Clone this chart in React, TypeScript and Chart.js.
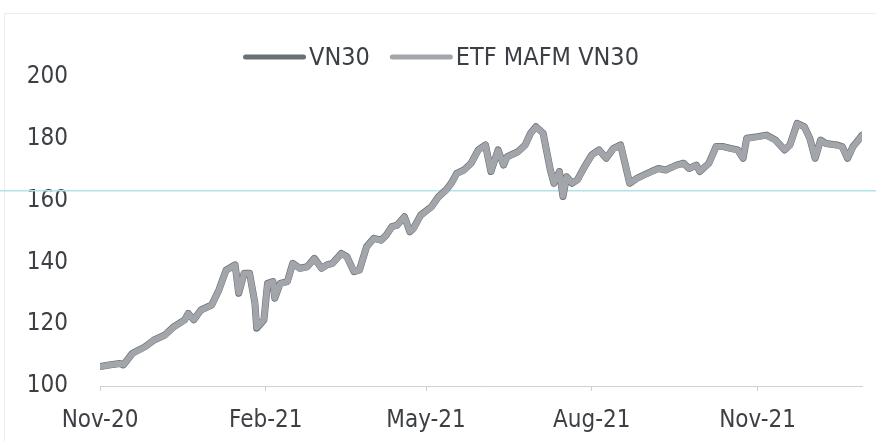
import { useEffect, useRef } from 'react';
import { Chart, registerables } from 'chart.js';

Chart.register(...registerables);

// ---------- data ----------
const seriesNames = ['VN30', 'ETF MAFM VN30'];
const startDate = '2020-11-02';
const endDate = '2021-12-30';
const tickDates = ['2020-11-02', '2021-02-02', '2021-05-02', '2021-08-02', '2021-11-02'];
const tickLabels = ['Nov-20', 'Feb-21', 'May-21', 'Aug-21', 'Nov-21'];
const yTicks = [100, 120, 140, 160, 180, 200];

const dates = [
  '2020-11-02', '2020-11-07', '2020-11-13', '2020-11-15', '2020-11-20', '2020-11-27', '2020-12-02', '2020-12-08',
  '2020-12-13', '2020-12-19', '2020-12-21', '2020-12-24', '2020-12-28', '2021-01-03', '2021-01-07', '2021-01-11',
  '2021-01-16', '2021-01-18', '2021-01-21', '2021-01-24', '2021-01-27', '2021-01-28', '2021-02-01', '2021-02-03',
  '2021-02-06', '2021-02-07', '2021-02-10', '2021-02-14', '2021-02-17', '2021-02-21', '2021-02-25', '2021-03-01',
  '2021-03-05', '2021-03-08', '2021-03-11', '2021-03-16', '2021-03-19', '2021-03-23', '2021-03-26', '2021-03-30',
  '2021-04-03', '2021-04-07', '2021-04-10', '2021-04-13', '2021-04-16', '2021-04-20', '2021-04-23', '2021-04-25',
  '2021-04-29', '2021-05-05', '2021-05-09', '2021-05-13', '2021-05-16', '2021-05-19', '2021-05-23', '2021-05-27',
  '2021-05-31', '2021-06-04', '2021-06-07', '2021-06-11', '2021-06-14', '2021-06-16', '2021-06-22', '2021-06-26',
  '2021-06-29', '2021-07-02', '2021-07-06', '2021-07-08', '2021-07-10', '2021-07-12', '2021-07-15', '2021-07-17',
  '2021-07-19', '2021-07-22', '2021-07-25', '2021-07-29', '2021-08-02', '2021-08-06', '2021-08-10', '2021-08-14',
  '2021-08-18', '2021-08-20', '2021-08-23', '2021-08-27', '2021-08-31', '2021-09-04', '2021-09-08', '2021-09-12',
  '2021-09-18', '2021-09-22', '2021-09-25', '2021-09-29', '2021-10-01', '2021-10-06', '2021-10-10', '2021-10-14',
  '2021-10-18', '2021-10-22', '2021-10-25', '2021-10-27', '2021-11-02', '2021-11-07', '2021-11-12', '2021-11-17',
  '2021-11-20', '2021-11-24', '2021-11-28', '2021-12-01', '2021-12-04', '2021-12-07', '2021-12-10', '2021-12-16',
  '2021-12-19', '2021-12-22', '2021-12-25', '2021-12-28', '2021-12-30',
];

const vn30 = [
  106.3, 106.8, 107.3, 106.8, 110.6, 112.7, 114.9, 116.5,
  119.2, 121.4, 123.5, 121.4, 124.6, 126.2, 131.1, 137.5,
  139.2, 130.0, 136.5, 136.5, 126.8, 118.7, 121.4, 133.2,
  133.8, 128.4, 133.2, 133.8, 139.7, 138.1, 138.6, 141.3,
  138.1, 139.2, 139.7, 142.9, 141.9, 137.0, 137.5, 145.1,
  147.8, 147.2, 148.9, 151.6, 152.1, 154.8, 149.9, 151.0,
  155.3, 158.0, 161.3, 163.4, 165.6, 168.8, 169.9, 172.1,
  176.4, 178.0, 169.4, 176.4, 171.5, 174.2, 175.8, 178.0,
  181.8, 183.9, 181.8, 175.8, 169.9, 165.6, 169.4, 161.3,
  167.7, 165.6, 166.7, 171.0, 174.8, 176.4, 173.7, 176.9,
  178.0, 173.1, 165.6, 167.2, 168.3, 169.4, 170.4, 169.9,
  171.5, 172.1, 170.4, 171.5, 169.4, 172.1, 177.5, 177.5,
  176.9, 176.4, 173.7, 180.2, 180.7, 181.2, 179.6, 176.4,
  178.0, 185.0, 183.9, 180.2, 173.7, 179.6, 178.5, 178.0,
  177.5, 173.7, 177.5, 179.6, 181.2,
];

const etfMafmVn30 = [
  106.2, 106.8, 107.2, 106.9, 110.5, 112.6, 114.9, 116.4,
  119.1, 121.3, 123.4, 121.5, 124.5, 126.1, 131.0, 137.4,
  139.1, 130.2, 136.4, 136.4, 126.9, 118.9, 121.5, 133.1,
  133.7, 128.5, 133.1, 133.7, 139.6, 138.0, 138.5, 141.2,
  138.1, 139.1, 139.6, 142.8, 141.8, 137.1, 137.4, 145.0,
  147.7, 147.1, 148.8, 151.5, 152.0, 154.7, 150.0, 150.9,
  155.2, 157.9, 161.2, 163.3, 165.5, 168.7, 169.8, 172.0,
  176.3, 177.9, 169.5, 176.3, 171.6, 174.1, 175.7, 177.9,
  181.7, 183.8, 181.7, 175.9, 170.0, 165.7, 169.3, 161.5,
  167.6, 165.7, 166.6, 170.9, 174.7, 176.3, 173.8, 176.8,
  177.9, 173.2, 165.7, 167.1, 168.2, 169.3, 170.3, 169.9,
  171.4, 172.0, 170.4, 171.4, 169.5, 172.0, 177.4, 177.4,
  176.8, 176.3, 173.8, 180.1, 180.6, 181.1, 179.5, 176.5,
  177.9, 184.9, 183.8, 180.1, 173.8, 179.5, 178.4, 177.9,
  177.4, 173.8, 177.4, 179.5, 181.1,
];

// ---------- helpers ----------
const dayMs = 86400000;
const toUtc = (s: string) => Date.UTC(+s.slice(0, 4), +s.slice(5, 7) - 1, +s.slice(8, 10));
const dayOf = (s: string) => Math.round((toUtc(s) - toUtc(startDate)) / dayMs);

function pickFont(): { family: string; size: number; legend: number } {
  const c = document.createElement('canvas').getContext('2d') as CanvasRenderingContext2D;
  const probe = 'Nov-20 ETF MAFM VN30 0123456789';
  c.font = '28px monospace';
  const base = c.measureText(probe).width;
  const test = (fam: string) => {
    c.font = `28px ${fam}, monospace`;
    return Math.abs(c.measureText(probe).width - base) > 0.5;
  };
  if (test('"Liberation Sans Narrow"')) return { family: '"Liberation Sans Narrow"', size: 28, legend: 29 };
  if (test('"DejaVu Sans Condensed"')) return { family: '"DejaVu Sans Condensed"', size: 24, legend: 25 };
  return { family: '"Liberation Sans", Arial, sans-serif', size: 24, legend: 25 };
}

const TEXT_COLOR = '#3c3f44';
const AXIS_COLOR = '#cdd1d5';
const LINE_COLORS = ['#6a7077', '#a2a5a9'];

export default function App() {
  const canvasRef = useRef<HTMLCanvasElement | null>(null);

  useEffect(() => {
    const canvas = canvasRef.current;
    if (!canvas) return;
    const f = pickFont();
    const font = { family: f.family, size: f.size, lineHeight: 1.2 };

    const overlay = {
      id: 'overlay',
      beforeDraw(chart: any) {
        const { ctx, width, height } = chart;
        ctx.save();
        ctx.fillStyle = '#ffffff';
        ctx.fillRect(0, 0, width, height);
        ctx.strokeStyle = '#ececec';
        ctx.lineWidth = 1;
        ctx.strokeRect(4.5, 13.5, width, height);
        ctx.restore();
      },
      beforeDatasetsDraw(chart: any) {
        const { ctx, width } = chart;
        const y = chart.scales.y.getPixelForValue(163.2);
        ctx.save();
        ctx.strokeStyle = '#b3e3ea';
        ctx.lineWidth = 1.5;
        ctx.beginPath();
        ctx.moveTo(0, y);
        ctx.lineTo(width, y);
        ctx.stroke();
        ctx.restore();
      },
      afterDraw(chart: any) {
        const { ctx } = chart;
        ctx.save();
        ctx.font = `${f.legend}px ${f.family}`;
        ctx.textBaseline = 'middle';
        ctx.textAlign = 'left';
        const swatch = 58;
        const gap = 3;
        const spacing = 20;
        const cap = 2.5;
        const widths = seriesNames.map((n) => ctx.measureText(n).width);
        const total = widths.reduce((s, w, i) => s + swatch + 2 * cap + gap + w + (i > 0 ? spacing : 0), 0);
        let x = 441 - total / 2;
        const y = 57;
        seriesNames.forEach((name, i) => {
          ctx.strokeStyle = LINE_COLORS[i];
          ctx.lineWidth = 5;
          ctx.lineCap = 'round';
          ctx.beginPath();
          ctx.moveTo(x + cap, y);
          ctx.lineTo(x + cap + swatch, y);
          ctx.stroke();
          x += swatch + 2 * cap + gap;
          ctx.fillStyle = TEXT_COLOR;
          ctx.fillText(name, x, y + 1);
          x += widths[i] + spacing;
        });
        ctx.restore();
      },
    };

    const chart = new Chart(canvas, {
      type: 'line',
      data: {
        datasets: [
          {
            label: seriesNames[0],
            data: dates.map((d, i) => ({ x: dayOf(d), y: vn30[i] })),
            borderColor: LINE_COLORS[0],
            backgroundColor: LINE_COLORS[0],
            borderWidth: 7,
            pointRadius: 0,
            tension: 0,
            borderJoinStyle: 'round',
            borderCapStyle: 'round',
            order: 1,
          },
          {
            label: seriesNames[1],
            data: dates.map((d, i) => ({ x: dayOf(d), y: etfMafmVn30[i] })),
            borderColor: LINE_COLORS[1],
            backgroundColor: LINE_COLORS[1],
            borderWidth: 6,
            pointRadius: 0,
            tension: 0,
            borderJoinStyle: 'round',
            borderCapStyle: 'round',
            order: 0,
          },
        ],
      },
      options: {
        animation: false,
        responsive: false,
        maintainAspectRatio: false,
        events: [],
        layout: { padding: { top: 77, right: 14, left: 0, bottom: 0 } },
        scales: {
          x: {
            type: 'linear',
            min: 0,
            max: dayOf(endDate),
            afterBuildTicks: (s: any) => {
              s.ticks = tickDates.map((d) => ({ value: dayOf(d) }));
            },
            afterFit: (s: any) => {
              s.height = 55;
            },
            ticks: {
              autoSkip: false,
              maxRotation: 0,
              padding: 15,
              color: TEXT_COLOR,
              font,
              callback: (_v: any, i: number) => tickLabels[i],
            },
            grid: { drawOnChartArea: false, drawTicks: true, tickLength: 5, color: AXIS_COLOR },
            border: { display: true, color: AXIS_COLOR, width: 1 },
          },
          y: {
            type: 'linear',
            min: 100,
            max: 200,
            afterBuildTicks: (s: any) => {
              s.ticks = yTicks.map((v) => ({ value: v }));
            },
            afterFit: (s: any) => {
              s.width = 100;
            },
            ticks: { padding: 32, color: TEXT_COLOR, font },
            grid: { display: false, drawTicks: false },
            border: { display: false },
          },
        },
        plugins: {
          legend: { display: false },
          tooltip: { enabled: false },
        },
      },
      plugins: [overlay],
    } as any);

    return () => chart.destroy();
  }, []);

  return (
    <div style={{ position: 'absolute', left: 0, top: 0, width: 876, height: 441 }}>
      <canvas ref={canvasRef} width={876} height={441} style={{ display: 'block', width: 876, height: 441 }} />
    </div>
  );
}
